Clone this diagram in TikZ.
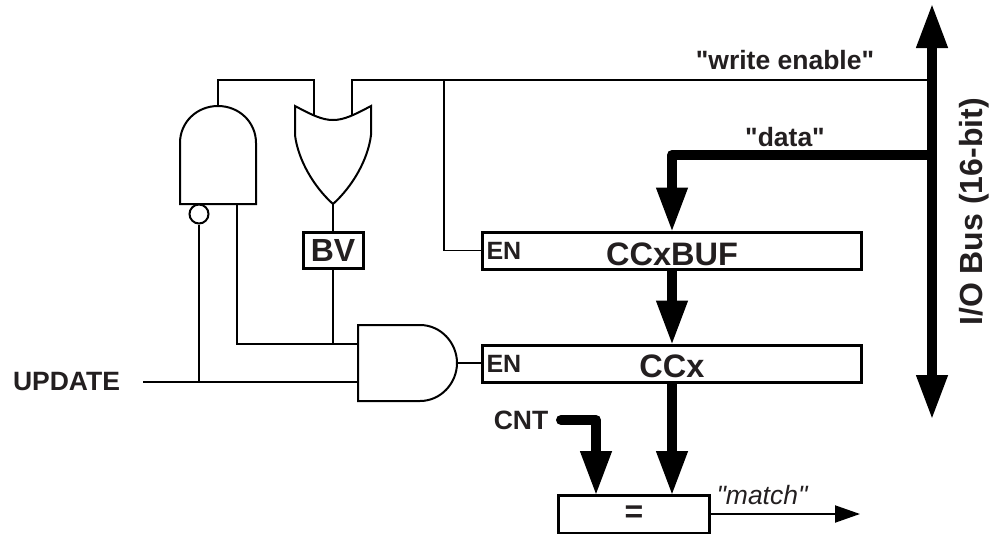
\documentclass[tikz,border=0pt]{standalone}
\usepackage{fontspec}
\setmainfont{Liberation Sans}[Ligatures=TeXOff]
\usetikzlibrary{positioning, arrows.meta}
\definecolor{inkgray}{HTML}{231F20}

\begin{document}
\begin{tikzpicture}[
		x=1pt,
		y=-1pt,
		text=inkgray,
		wire/.style={line width=1.9pt, line join=miter},
		gate/.style={line width=2pt, line join=miter},
		gatearea/.style={inner sep=0pt, outer sep=0pt, minimum width=76pt, minimum height=98pt},
		regbox/.style={draw, line width=3pt, inner sep=0pt, minimum width=379pt, minimum height=37pt},
		bvbox/.style={draw, line width=3pt, inner sep=0pt, minimum width=60pt, minimum height=36pt, font=\bfseries\fontsize{32}{32}\selectfont},
		eqbox/.style={draw, line width=3pt, inner sep=0pt, minimum width=151pt, minimum height=38pt, font=\bfseries\fontsize{32}{32}\selectfont},
		bubble/.style={draw, circle, line width=2pt, inner sep=0pt, minimum size=19pt},
		regname/.style={font=\bfseries\fontsize{32.5}{32.5}\selectfont},
		enlabel/.style={font=\bfseries\fontsize{25}{25}\selectfont},
		label/.style={font=\bfseries\fontsize{26.5}{26.5}\selectfont},
		bus/.style={line width=10pt, line join=round, shorten >=-2pt, -{Triangle[length=45pt,width=29pt]}},
		busboth/.style={line width=10pt, shorten >=-2pt, shorten <=-2pt, {Triangle[length=45pt,width=29pt]}-{Triangle[length=45pt,width=29pt]}},
		matcharrow/.style={line width=2pt, -{Triangle[length=25pt,width=17pt]}}
		]
		\useasboundingbox (0,0) rectangle (999,533);
		
		% Registers
		\node[regbox] (ccxbuf) at (672,250.5) {};
		\node[regbox] (ccx) at (672,363.5) {};
		\node[eqbox] (cmp) at (634,514.5) {\raisebox{-3pt}{=}};
		\node[regname] (ccxbuftext) at (672,254) {CCxBUF};
		\node[regname] (ccxtext) at (672,366) {CCx};
		\node[enlabel, right=2pt of ccxbuf.west] (enbuf) {EN};
		\node[enlabel, right=2pt of ccx.west] (encc) {EN};
		
		% Gates
		\node[gatearea] (nand) at (218,155) {};
		\node[gatearea] (orgate) at (333,155) {};
		\node[gatearea, minimum width=99pt, minimum height=76pt] (andgate) at (407.5,363) {};
		\node[bubble] (notin) at (199,214) {};
		\node[bvbox] (bv) at (333,250) {BV};
		
		\draw[gate] (nand.south west) -- (180,143) .. controls (180,122) and (197,106) .. (nand.north)
			.. controls (239,106) and (256,122) .. (256,143) -- (nand.south east) -- cycle;
		\draw[gate] (orgate.north west) .. controls (312,115) and (322,120) .. (333,120)
			.. controls (344,120) and (354,115) .. (orgate.north east) -- (371,135)
			.. controls (368,160) and (352,187) .. (orgate.south)
			.. controls (314,187) and (298,160) .. (295,135) -- cycle;
		\draw[gate] (andgate.north west) -- (420,325) .. controls (441,325) and (457,343) .. (andgate.east)
			.. controls (457,383) and (441,401) .. (420,401) -- (andgate.south west) -- cycle;
		
		% Bus and its labels
		\coordinate (bustop) at (932,5);
		\coordinate (busbot) at (932,418);
		\coordinate (wetap) at (932,80);
		\coordinate (datatap) at (932,155);
		\draw[busboth] (busbot) -- (bustop);
		\draw[bus] (datatap) -- (ccxbuf.north |- datatap) -- (ccxbuf.north);
		\node[label] (wetext) at (785,60) {"write enable"};
		\node[label] (datatext) at (785,137) {"data"};
		\node[rotate=90, font=\bfseries\fontsize{32}{32}\selectfont] (bustext) at (974,212) {I/O Bus (16-bit)};
		
		% Write enable wiring
		\coordinate (orleft) at (314,116);
		\coordinate (orright) at (352,116);
		\coordinate (wesplit) at (444,80);
		\draw[wire] (nand.north) -- (nand.north |- wetap) -- (orleft |- wetap) -- (orleft);
		\draw[wire] (orright) -- (orright |- wetap) -- (wetap);
		\draw[wire] (wesplit) -- (wesplit |- ccxbuf.west) -- (ccxbuf.west);
		
		% Update logic
		\coordinate (updstart) at (143,382);
		\coordinate (andup) at (andgate.west |- 0,344);
		\coordinate (nandout) at (237,204);
		\node[label] (update) at (66.5,382) {UPDATE};
		\draw[wire] (updstart) -- (andgate.west |- updstart);
		\draw[wire] (notin) -- (notin |- updstart);
		\draw[wire] (nandout) -- (nandout |- andup) -- (andup);
		\draw[wire] (orgate.south) -- (bv.north);
		\draw[wire] (bv.south) -- (bv.south |- andup);
		\draw[wire] (andgate.east) -- (ccx.west |- andgate.east);
		
		% Compare stage
		\coordinate (cntstart) at (561,420);
		\coordinate (cntbend) at (596,420);
		\node[label] (cnt) at (521,420) {CNT};
		\draw[bus] (ccxbuf.south) -- (ccx.north);
		\draw[bus] (ccx.south) -- (ccx.south |- cmp.north);
		\draw[bus] (cntstart) -- (cntbend) -- (cntbend |- cmp.north);
		\draw[line width=10pt, line cap=round] (cntstart) -- ++(0.1,0);
		\coordinate (matchend) at (860,514);
		\draw[matcharrow] (cmp.east |- matchend) -- (matchend);
		\node[font=\itshape\fontsize{26.5}{26.5}\selectfont] (match) at (762,495) {"match"};
		
	\end{tikzpicture}
\end{document}
